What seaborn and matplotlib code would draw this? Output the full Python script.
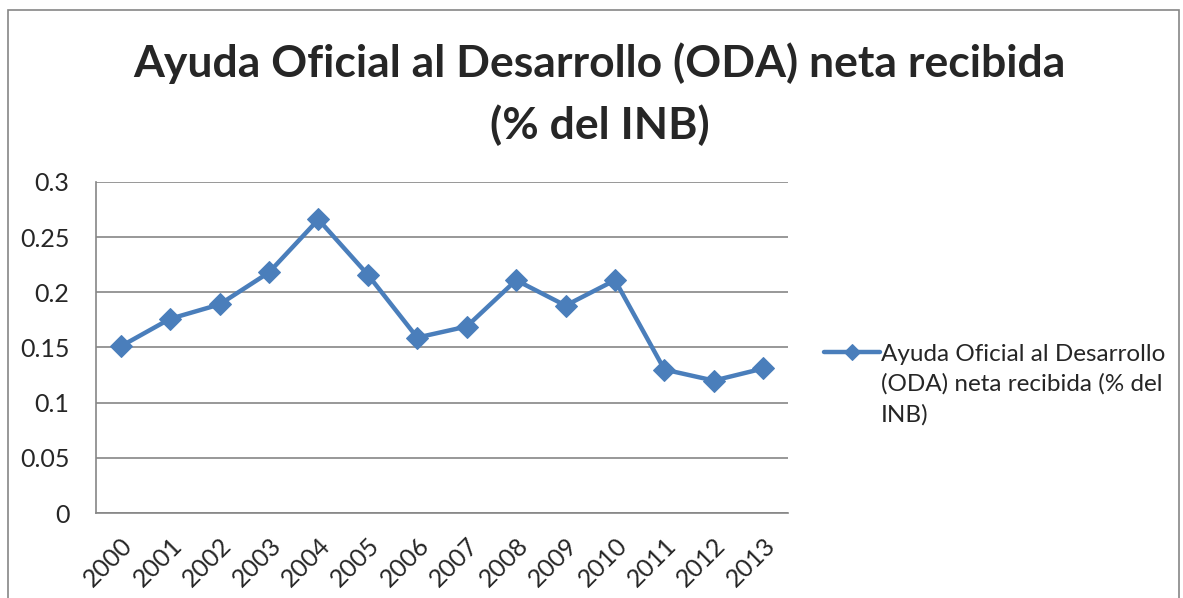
import numpy as np
import pandas as pd
import seaborn as sns
import matplotlib.pyplot as plt
import matplotlib.transforms as mtransforms
from matplotlib.patches import Rectangle

years = ['2000', '2001', '2002', '2003', '2004', '2005', '2006',
         '2007', '2008', '2009', '2010', '2011', '2012', '2013']
oda = [0.151, 0.176, 0.189, 0.218, 0.266, 0.216, 0.159,
       0.169, 0.211, 0.188, 0.211, 0.130, 0.120, 0.131]
series_name = 'Ayuda Oficial al Desarrollo (ODA) neta recibida (% del INB)'

df = pd.DataFrame({'Year': years, 'ODA': oda})

sns.set_style('white')
plt.rcParams['font.family'] = ['Lato', 'DejaVu Sans']

fig = plt.figure(figsize=(11.83, 5.98), dpi=100)
ax = fig.add_axes([0.0811, 0.1421, 0.585, 0.5536])

sns.lineplot(data=df, x='Year', y='ODA', ax=ax, color='#4A7EBB', linewidth=3.2,
             marker='D', markersize=11, markeredgecolor='#4A7EBB',
             sort=False, label=series_name)

ax.set_ylim(0, 0.3)
ax.set_yticks(np.arange(0, 0.31, 0.05))
ax.set_yticklabels(['0', '0.05', '0.1', '0.15', '0.2', '0.25', '0.3'], fontsize=18)
ax.set_xlim(-0.5, len(years) - 0.5)
ax.set_xticks(np.arange(-0.5, len(years), 1.0))
ax.set_xticklabels([])
ax.set_xticks(np.arange(len(years)), minor=True)
ax.set_xticklabels(years, minor=True, rotation=45, ha='right', va='top',
                   rotation_mode='anchor', fontsize=18)
shift = mtransforms.ScaledTranslation(6 / 100, 0, fig.dpi_scale_trans)
for lbl in ax.get_xticklabels(minor=True):
    lbl.set_transform(lbl.get_transform() + shift)
ax.tick_params(axis='x', which='minor', length=0, pad=15)
ax.tick_params(axis='both', which='major', length=7, width=1.2, color='#868686',
               direction='out')
ax.tick_params(axis='y', pad=12)
ax.set_xlabel('')
ax.set_ylabel('')
ax.grid(axis='y', color='#868686', linewidth=1.2)
ax.set_axisbelow(True)
for s in ['top', 'right']:
    ax.spines[s].set_visible(False)
for s in ['left', 'bottom']:
    ax.spines[s].set_color('#868686')
    ax.spines[s].set_linewidth(1.2)

ax.legend_.remove()
handles, _ = ax.get_legend_handles_labels()
leg = fig.legend(handles, ['Ayuda Oficial al Desarrollo\n(ODA) neta recibida (% del\nINB)'],
                 loc='upper left', bbox_to_anchor=(0.678, 0.462), frameon=False,
                 fontsize=17.5, handlelength=2.3, handletextpad=0.05, markerscale=0.75)
for t in leg.get_texts():
    t.set_linespacing(1.5)
# put the marker on the first line of the wrapped label
for col in leg._legend_handle_box.get_children():
    for row in col.get_children():
        row.align = 'top'

fig.text(0.507, 0.895, 'Ayuda Oficial al Desarrollo (ODA) neta recibida',
         ha='center', va='center', fontsize=32, fontweight='bold')
fig.text(0.507, 0.79, '(% del INB)', ha='center', va='center',
         fontsize=32, fontweight='bold')

fig.patches.append(Rectangle((0.007, -0.1), 0.99, 1.083, transform=fig.transFigure,
                             fill=False, edgecolor='#868686', linewidth=1.2))

fig.savefig('out.png', dpi=100)
